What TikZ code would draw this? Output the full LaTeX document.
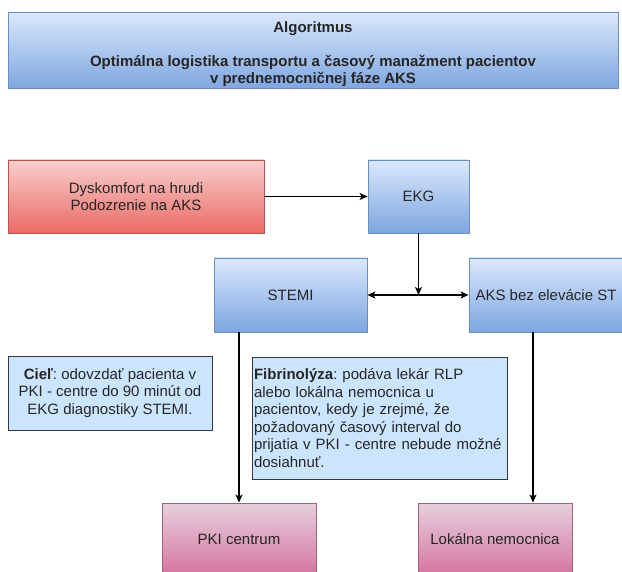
\documentclass[tikz,border=0pt]{standalone}
\usepackage{fontspec}
\setmainfont{Liberation Sans}
\frenchspacing
\usetikzlibrary{arrows.meta}
\definecolor{bluetop}{HTML}{DAE8FC}
\definecolor{bluebot}{HTML}{7EA6E0}
\definecolor{blueline}{HTML}{6C8EBF}
\definecolor{redtop}{HTML}{F8CECC}
\definecolor{redbot}{HTML}{EA6B66}
\definecolor{redline}{HTML}{B85450}
\definecolor{pinktop}{HTML}{E6D0DE}
\definecolor{pinkbot}{HTML}{D5739D}
\definecolor{pinkline}{HTML}{996185}
\definecolor{infofill}{HTML}{CCE5FF}
\definecolor{infoline}{HTML}{36393D}
\tikzset{
  >={Stealth[length=8pt,width=7pt,inset=2pt]},
  box/.style={rectangle,draw,line width=0.9pt,align=center,inner sep=2pt,
    font=\fontsize{15}{17.5}\selectfont,text=black!85},
  bluebox/.style={box,draw=blueline,top color=bluetop,bottom color=bluebot},
  redbox/.style={box,draw=redline,top color=redtop,bottom color=redbot},
  pinkbox/.style={box,draw=pinkline,top color=pinktop,bottom color=pinkbot},
  infobox/.style={box,draw=infoline,fill=infofill},
  link/.style={line width=1.1pt,->}
}
\begin{document}
\begin{tikzpicture}[x=1pt,y=-1pt]
\useasboundingbox (0,0) rectangle (622,572);
\node[bluebox,minimum width=610pt,minimum height=73pt,font=\fontsize{15}{17}\selectfont\bfseries] (title) at (313,50.5)
  {\rule{0pt}{18pt}Algoritmus\\[17pt]Optimálna logistika transportu a časový manažment pacientov\\v prednemocničnej fáze AKS};
\node[redbox,minimum width=256pt,minimum height=73pt] (dysk) at (136,196.5) {Dyskomfort na hrudi\\Podozrenie na AKS};
\node[bluebox,minimum width=101pt,minimum height=73pt] (ekg) at (418.5,196.5) {EKG};
\node[bluebox,minimum width=153pt,minimum height=74pt] (stemi) at (290.5,295) {STEMI};
\node[bluebox,minimum width=154pt,minimum height=74pt] (aks) at (546,295) {AKS bez elevácie ST};
\node[infobox,minimum width=204pt,minimum height=74pt] (ciel) at (110,393)
  {\textbf{Cieľ}: odovzdať pacienta v\\PKI - centre do 90 minút od\\EKG diagnostiky STEMI.};
\node[infobox,minimum height=122pt,text width=251pt,align=left] (fibr) at (379.5,418)
  {\textbf{Fibrinolýza}: podáva lekár RLP\\alebo lokálna nemocnica u\\pacientov, kedy je zrejmé, že\\požadovaný časový interval do\\prijatia v PKI - centre nebude možné\\dosiahnuť.};
\node[pinkbox,minimum width=154pt,minimum height=73pt] (pki) at (239,539.5) {PKI centrum};
\node[pinkbox,minimum width=154pt,minimum height=73pt] (lokal) at (495,539.5) {Lokálna nemocnica};
\coordinate (split) at (ekg |- stemi);
\draw[link] (dysk) -- (ekg);
\draw[link] (ekg) -- (split);
\draw[link,<->] (stemi) -- (aks);
\draw[link] (stemi.south -| pki) -- (pki);
\draw[link] ([xshift=-13pt]aks.south) -- ([xshift=-13pt]aks.south |- lokal.north);
\end{tikzpicture}
\end{document}
